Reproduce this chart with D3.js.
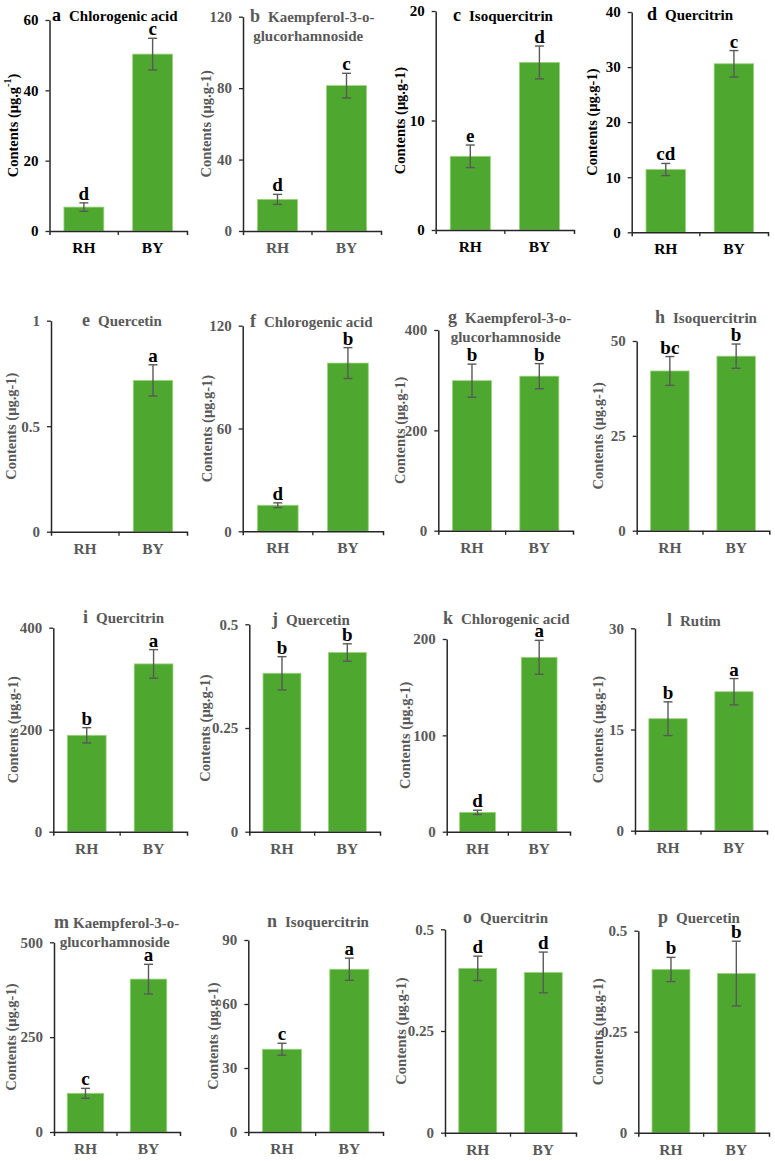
<!DOCTYPE html>
<html>
<head>
<meta charset="utf-8">
<script src="https://cdn.jsdelivr.net/npm/d3@7"></script>
<style>
  html, body { margin: 0; padding: 0; background: #fff; }
  svg { display: block; }
  text { font-family: "Liberation Serif", "Times New Roman", serif; font-weight: bold; }
</style>
</head>
<body>
<svg id="chart" width="775" height="1161"></svg>
<script>
// ---------------- DATA ----------------
const categories = ["RH", "BY"];
const panelLetters = ["a","b","c","d","e","f","g","h","i","j","k","l","m","n","o","p"];
const compoundNames = [
  ["Chlorogenic acid"],
  ["Kaempferol-3-o-", "glucorhamnoside"],
  ["Isoquercitrin"],
  ["Quercitrin"],
  ["Quercetin"],
  ["Chlorogenic acid"],
  ["Kaempferol-3-o-", "glucorhamnoside"],
  ["Isoquercitrin"],
  ["Quercitrin"],
  ["Quercetin"],
  ["Chlorogenic acid"],
  ["Rutim"],
  ["Kaempferol-3-o-", "glucorhamnoside"],
  ["Isoquercitrin"],
  ["Quercitrin"],
  ["Quercetin"]
];
const rhValues = [6.8, 17.7, 6.73, 11.4, 0, 15.2, 299, 42.1, 189, 0.382, 20.1, 16.6, 102, 38.8, 0.404, 0.404];
const rhErrors = [1.2, 2.8, 1.03, 1.1, 0, 1.4, 33, 3.8, 15, 0.04, 2.2, 2.5, 13, 2.8, 0.03, 0.03];
const byValues = [50.3, 81.4, 15.3, 30.6, 0.717, 98.2, 308, 46.0, 329, 0.432, 181, 20.6, 403, 76.3, 0.394, 0.394];
const byErrors = [4.5, 6.9, 1.5, 2.4, 0.074, 9, 25, 3.2, 28, 0.021, 17.6, 1.95, 39, 5.2, 0.05, 0.08];
const rhSig = ["d","d","e","cd","","d","b","bc","b","b","d","b","c","c","d","b"];
const bySig = ["c","c","d","c","a","b","b","b","a","b","a","a","a","a","d","b"];
const yMaxes = [60, 120, 20, 40, 1, 120, 400, 50, 400, 0.5, 200, 30, 500, 90, 0.5, 0.5];
const yTickValues = [
  [0,20,40,60], [0,40,80,120], [0,10,20], [0,10,20,30,40],
  [0,0.5,1], [0,60,120], [0,200,400], [0,25,50],
  [0,200,400], [0,0.25,0.5], [0,100,200], [0,15,30],
  [0,250,500], [0,30,60,90], [0,0.25,0.5], [0,0.25,0.5]
];
const yAxisLabel = "Contents (μg.g-1)";

// ---------------- LAYOUT (pixels) ----------------
// [axisX, topY, rightX, zeroY, yLabelX, titleX, titleY1, titleY2, dark]
const layout = [
  [49.5, 20,    187,   231,   13,  52,  21,  null, true],
  [243,  16.7,  381,   231,   206, 250, 21.7, 40.7, false],
  [435.7,11,    574,   230,   400, 453, 21,  null, true],
  [631.7,12,    768,   232.3, 592, 647, 20,  null, true],
  [51,   320.7, 187,   531.7, 11,  82,  326, null, false],
  [242.7,325.7, 383,   531.3, 207, 250, 327, null, false],
  [438.3,330,   573,   530.7, 400, 448, 323, 342, false],
  [636.7,341,   769.3, 530.7, 598, 655, 323, null, false],
  [53.3, 627.7, 187,   831.7, 13,  83,  623, null, false],
  [249.3,624.3, 380,   831.7, 205, 272, 625, null, false],
  [446.7,639,   570,   831.7, 405, 443, 624, null, false],
  [635,  628.3, 767,   830.7, 598, 667, 626, null, false],
  [54,   942.3, 180,   1132,  11,  54,  928, 947, false],
  [248.3,940,   383,   1132,  213, 267, 927, null, false],
  [445,  929.3, 576,   1132.7,401, 463, 923, null, false],
  [638.3,930.7, 769,   1132.7,598, 658, 923, null, false]
];

const GREEN = "#4ea72e";
const BAR_EDGE = "#9dd37f";
const ERR = "#595959";
const GREY_TEXT = "#595959";
const AXIS = "#262626";
const FONT = "'Liberation Serif', 'Times New Roman', serif";

const svg = d3.select("#chart");

panelLetters.forEach((letter, i) => {
  const [ax, top, right, zero, labX, tX, tY1, tY2, dark] = layout[i];
  const txtColor = dark ? "#000" : GREY_TEXT;
  const g = svg.append("g");

  const x = d3.scaleBand().domain(categories).range([ax, right])
    .paddingInner(0.42).paddingOuter(0.21);
  const y = d3.scaleLinear().domain([0, yMaxes[i]]).range([zero, top]);

  const vals = [rhValues[i], byValues[i]];
  const errs = [rhErrors[i], byErrors[i]];
  const sigs = [rhSig[i], bySig[i]];
  const rows = categories.map((c, k) => ({ c, v: vals[k], e: errs[k], s: sigs[k] }));

  // bars
  g.selectAll("rect.bar").data(rows.filter(d => d.v > 0)).join("rect")
    .attr("class", "bar")
    .attr("x", d => x(d.c))
    .attr("width", x.bandwidth())
    .attr("y", d => y(d.v))
    .attr("height", d => y(0) - y(d.v))
    .attr("fill", GREEN)
    .attr("stroke", BAR_EDGE)
    .attr("stroke-width", 0.8);

  // error bars
  const eb = g.selectAll("g.err").data(rows.filter(d => d.e > 0)).join("g").attr("class", "err")
    .attr("stroke", ERR).attr("stroke-width", 1.4);
  const cx = d => x(d.c) + x.bandwidth() / 2;
  eb.append("line").attr("x1", cx).attr("x2", cx)
    .attr("y1", d => y(d.v + d.e)).attr("y2", d => y(d.v - d.e));
  eb.append("line").attr("x1", d => cx(d) - 4.5).attr("x2", d => cx(d) + 4.5)
    .attr("y1", d => y(d.v + d.e)).attr("y2", d => y(d.v + d.e));
  eb.append("line").attr("x1", d => cx(d) - 4.5).attr("x2", d => cx(d) + 4.5)
    .attr("y1", d => y(d.v - d.e)).attr("y2", d => y(d.v - d.e));

  // significance letters
  g.selectAll("text.sig").data(rows.filter(d => d.s)).join("text")
    .attr("class", "sig")
    .attr("x", cx)
    .attr("y", d => y(d.v + d.e) - 3)
    .attr("text-anchor", "middle")
    .attr("font-size", 19)
    .attr("fill", "#000")
    .text(d => d.s);

  // y axis
  const yAxis = g.append("g").attr("transform", `translate(${ax},0)`)
    .call(d3.axisLeft(y).tickValues(yTickValues[i]).tickSize(4).tickSizeOuter(0)
      .tickPadding(7).tickFormat(d => String(d)));
  yAxis.select(".domain").attr("stroke", AXIS).attr("stroke-width", 1.5);
  yAxis.selectAll(".tick line").attr("stroke", AXIS).attr("stroke-width", 1.3);
  yAxis.selectAll(".tick text").attr("font-size", 15).attr("fill", txtColor)
    .attr("font-family", FONT).attr("font-weight", "bold");

  // x axis
  const xAxis = g.append("g").attr("transform", `translate(0,${zero})`)
    .call(d3.axisBottom(x).tickSize(0).tickSizeOuter(4).tickPadding(11));
  xAxis.select(".domain").attr("stroke", AXIS).attr("stroke-width", 1.5);
  xAxis.selectAll(".tick text").attr("font-size", 15.5).attr("fill", txtColor)
    .attr("font-family", FONT).attr("font-weight", "bold");
  const mid = x(categories[1]) - x.step() * x.paddingInner() / 2;
  xAxis.append("line").attr("x1", mid).attr("x2", mid).attr("y1", 0).attr("y2", 4)
    .attr("stroke", AXIS).attr("stroke-width", 1.3);

  // y axis label
  const yl = g.append("text")
    .attr("transform", `translate(${labX},${(top + zero) / 2}) rotate(-90)`)
    .attr("text-anchor", "middle")
    .attr("dominant-baseline", "central")
    .attr("font-size", 14.5)
    .attr("fill", txtColor);
  if (i === 0) {
    yl.append("tspan").text("Contents (μg.g");
    yl.append("tspan").attr("font-size", 10).attr("baseline-shift", "super").text("-1");
    yl.append("tspan").text(")");
  } else {
    yl.text(yAxisLabel);
  }

  // title
  const names = compoundNames[i];
  const t1 = g.append("text").attr("x", tX).attr("y", tY1).attr("fill", txtColor);
  t1.append("tspan").attr("font-size", 18).text(letter);
  t1.append("tspan").attr("font-size", 15).attr("dx", letter === "m" ? 4 : 8).text(names[0]);
  if (names.length > 1) {
    const w = t1.node().getComputedTextLength();
    g.append("text").attr("x", tX + w / 2).attr("y", tY2)
      .attr("text-anchor", "middle").attr("font-size", 15).attr("fill", txtColor)
      .text(names[1]);
  }
});
</script>
</body>
</html>
